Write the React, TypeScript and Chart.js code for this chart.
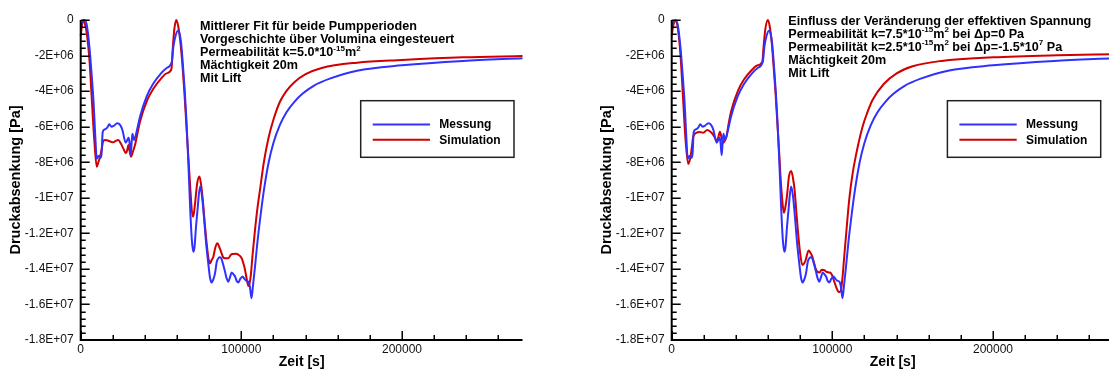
import React, { useEffect, useRef } from 'react';
import { Chart, registerables } from 'chart.js';

Chart.register(...registerables);

// ---------- data (time in s, pressure in MPa -> converted to Pa) ----------
const messungZeit = [0, 1500, 2700, 4000, 5500, 7000, 8000, 9000, 10000, 11000, 12300, 13000, 13700, 15000, 16500, 17800, 19200, 20600, 22800, 24500, 26000, 28000, 29300, 29900, 30500, 31100, 31700, 32200, 33200, 35000, 36900, 41000, 45000, 50000, 53500, 56700, 57700, 59000, 60500, 61500, 62500, 63600, 64700, 65800, 67000, 68100, 69200, 70100, 70800, 71800, 72700, 74300, 75500, 76700, 78000, 79400, 80500, 81500, 82500, 83600, 84700, 85700, 86700, 87700, 88800, 89800, 90900, 91900, 93000, 94000, 95000, 96100, 97200, 98100, 99400, 100800, 101800, 102900, 104400, 105300, 106300, 107300, 108500, 110000, 111600, 114000, 117000, 120000, 124000, 128000, 133000, 138000, 145000, 155000, 172000, 200000, 238000, 275000];
const messungDruck = [-0.3, -0.05, -0.02, -0.4, -1.6, -3.3, -4.6, -6.4, -7.8, -7.65, -7.75, -7.5, -6.3, -6.15, -6.05, -5.87, -6.0, -5.95, -5.81, -5.9, -6.2, -6.9, -6.7, -6.62, -7.0, -7.6, -6.9, -6.4, -6.75, -6.2, -5.44, -4.31, -3.6, -3.0, -2.7, -2.35, -1.5, -0.9, -0.6, -0.75, -1.3, -2.5, -3.9, -5.6, -8.0, -10.5, -12.4, -13.03, -12.8, -11.6, -10.69, -9.37, -9.9, -11.06, -12.5, -13.69, -14.5, -14.77, -14.6, -14.25, -13.6, -13.4, -13.35, -13.45, -13.8, -14.15, -14.55, -14.72, -14.45, -14.2, -14.3, -14.43, -14.7, -14.77, -14.55, -14.43, -14.55, -14.66, -14.72, -15.0, -15.65, -14.9, -13.87, -12.5, -11.25, -9.6, -8.0, -6.9, -5.9, -5.2, -4.6, -4.15, -3.7, -3.3, -2.85, -2.55, -2.3, -2.15];

const simLinksZeit = [0, 800, 1600, 2500, 4000, 5500, 7000, 8500, 10000, 11000, 12000, 13000, 14100, 15500, 17200, 18800, 20300, 21800, 23400, 25000, 26500, 28200, 29000, 29700, 30500, 31300, 32500, 33800, 36900, 41400, 45000, 50000, 53500, 56500, 57300, 58300, 59500, 60700, 62000, 63300, 64500, 65700, 67000, 68300, 69700, 70400, 71200, 72500, 73900, 75000, 76000, 77200, 78400, 79500, 80500, 81500, 82600, 83800, 85100, 86400, 87700, 88700, 89800, 91900, 93500, 95000, 96500, 98100, 100200, 101300, 102300, 103400, 104400, 105100, 105800, 107000, 108500, 110000, 111600, 114000, 117000, 120000, 124000, 128000, 133000, 140000, 150000, 172000, 200000, 238000, 275000];
const simLinksDruck = [-0.9, -0.3, 0, -0.15, -0.9, -2.3, -4.6, -6.8, -8.25, -8.0, -7.7, -7.3, -6.79, -6.75, -6.79, -6.85, -6.88, -6.8, -6.75, -6.95, -7.22, -7.5, -7.3, -7.03, -7.4, -7.69, -7.4, -7.03, -5.72, -4.5, -3.9, -3.3, -3.0, -2.75, -1.6, -0.5, 0, -0.35, -1.2, -2.5, -4.0, -5.8, -7.69, -9.6, -11.06, -10.9, -10.3, -9.2, -8.81, -9.3, -10.12, -11.4, -12.56, -13.4, -13.69, -13.5, -13.3, -12.8, -12.56, -12.8, -13.12, -13.35, -13.4, -13.4, -13.2, -13.16, -13.15, -13.2, -13.4, -13.7, -14.06, -14.6, -14.96, -14.8, -14.43, -13.2, -11.81, -10.6, -9.56, -8.0, -6.6, -5.6, -4.6, -4.0, -3.5, -3.05, -2.7, -2.4, -2.25, -2.1, -2.03];

const simRechtsZeit = [0, 1000, 2500, 4000, 5500, 7000, 8500, 10300, 11500, 12500, 13400, 15500, 17500, 19600, 22100, 24800, 26500, 27900, 29000, 30000, 31000, 32000, 33000, 34100, 35500, 37200, 41400, 45000, 50000, 53500, 56400, 57200, 58300, 59900, 61000, 62300, 63500, 64700, 65900, 67000, 67600, 68700, 69800, 70600, 71700, 73000, 74400, 75500, 76500, 77500, 78500, 79800, 81300, 82400, 83400, 85200, 86400, 87500, 88700, 89900, 92000, 93400, 94700, 96100, 97700, 99200, 100200, 101200, 102500, 103700, 104600, 105400, 106400, 107400, 108900, 110500, 112500, 114700, 118800, 121800, 125000, 132000, 140000, 150000, 168000, 200000, 240000, 275000];
const simRechtsDruck = [-0.9, -0.3, -0.05, -0.6, -2.0, -4.3, -6.6, -8.1, -7.8, -7.2, -6.56, -6.34, -6.3, -6.34, -6.19, -6.34, -6.55, -6.8, -6.6, -6.28, -6.6, -6.9, -6.8, -6.56, -5.8, -5.06, -3.94, -3.35, -2.8, -2.55, -2.35, -1.5, -0.5, 0, -0.35, -1.3, -2.7, -4.2, -6.0, -7.6, -8.62, -10.0, -10.84, -10.6, -9.94, -8.8, -8.49, -8.9, -9.56, -10.7, -11.81, -13.0, -13.78, -13.7, -13.5, -12.97, -13.1, -13.3, -13.7, -14.06, -14.2, -14.05, -14.06, -14.15, -14.2, -14.25, -14.45, -14.72, -15.05, -15.28, -15.3, -15.18, -14.4, -13.3, -11.7, -10.1, -8.7, -7.6, -6.0, -5.2, -4.5, -3.6, -3.0, -2.6, -2.3, -2.1, -1.98, -1.92];

const seriesLabels = ['Messung', 'Simulation'];
const xAxisTitle = 'Zeit [s]';
const yAxisTitle = 'Druckabsenkung [Pa]';

// tick positions
const xTickValues = [0, 20000, 40000, 60000, 80000, 100000, 120000, 140000, 160000, 180000, 200000, 220000, 240000, 260000];
const xLabelledTicks = [0, 100000, 200000];
const yMinorStep = 400000;
const yMajorStep = 2000000;

type Seg = { t: string; sup?: boolean };
const notesLinks: Seg[][] = [
  [{ t: 'Mittlerer Fit für beide Pumpperioden' }],
  [{ t: 'Vorgeschichte über Volumina eingesteuert' }],
  [{ t: 'Permeabilität k=5.0*10' }, { t: '-15', sup: true }, { t: 'm' }, { t: '2', sup: true }],
  [{ t: 'Mächtigkeit 20m' }],
  [{ t: 'Mit Lift' }],
];
const notesRechts: Seg[][] = [
  [{ t: 'Einfluss der Veränderung der effektiven Spannung' }],
  [{ t: 'Permeabilität k=7.5*10' }, { t: '-15', sup: true }, { t: 'm' }, { t: '2', sup: true }, { t: ' bei Δp=0 Pa' }],
  [{ t: 'Permeabilität k=2.5*10' }, { t: '-15', sup: true }, { t: 'm' }, { t: '2', sup: true }, { t: ' bei Δp=-1.5*10' }, { t: '7', sup: true }, { t: ' Pa' }],
  [{ t: 'Mächtigkeit 20m' }],
  [{ t: 'Mit Lift' }],
];

const X_MAX = 275000;
const Y_MIN = -18000000;
const Y_MAX = 0;

const BLUE = '#3030ff';
const RED = '#d00000';
const FONT = '"Liberation Sans", Arial, Helvetica, sans-serif';

function fmtE(v: number): string {
  if (Math.abs(v) < 1e-6) return '0';
  const e = Math.floor(Math.log10(Math.abs(v)) + 1e-9);
  const m = Math.round((v / Math.pow(10, e)) * 10) / 10;
  return `${m}E${e >= 0 ? '+' : '-'}${String(Math.abs(e)).padStart(2, '0')}`;
}

function toPoints(ts: number[], ps: number[]) {
  return ts.map((t, i) => ({ x: t, y: ps[i] * 1e6 }));
}

function yTickList() {
  const out: { value: number }[] = [];
  for (let v = Y_MIN; v <= Y_MAX + 1; v += yMinorStep) out.push({ value: v });
  return out;
}

const isYMajor = (v: number) => Math.abs(Math.round(v / yMinorStep)) % (yMajorStep / yMinorStep) === 0;

type Layout = {
  notes: Seg[][];
  noteX: number;
  noteY0: number;
  noteDy: number;
  legendX: number;
};

function makeDecor(cfg: Layout) {
  return {
    id: 'decor',
    afterDraw(chart: any) {
      const ctx: CanvasRenderingContext2D = chart.ctx;
      const a = chart.chartArea;
      const xs = chart.scales.x;
      const ys = chart.scales.y;
      ctx.save();
      // axes
      ctx.strokeStyle = '#000';
      ctx.lineWidth = 2;
      ctx.beginPath();
      ctx.moveTo(a.left, a.top);
      ctx.lineTo(a.left, a.bottom);
      ctx.lineTo(a.right, a.bottom);
      ctx.stroke();
      // ticks (inward)
      ctx.lineWidth = 1.5;
      ctx.beginPath();
      for (const tk of ys.ticks) {
        const v = tk.value;
        const py = Math.round(ys.getPixelForValue(v)) + 0.25;
        ctx.moveTo(a.left, py);
        ctx.lineTo(a.left + (isYMajor(v) ? 9 : 5), py);
      }
      for (const tk of xs.ticks) {
        const v = tk.value;
        const major = xLabelledTicks.includes(v);
        const px = Math.round(xs.getPixelForValue(v)) + 0.25;
        ctx.moveTo(px, a.bottom);
        ctx.lineTo(px, a.bottom - (major ? 9 : 5));
      }
      ctx.stroke();

      // axis titles
      ctx.fillStyle = '#000';
      ctx.font = `bold 14px ${FONT}`;
      ctx.textAlign = 'center';
      ctx.textBaseline = 'middle';
      ctx.fillText(xAxisTitle, (a.left + a.right) / 2, 362);
      ctx.save();
      ctx.translate(a.left - 64.3, (a.top + a.bottom) / 2);
      ctx.rotate(-Math.PI / 2);
      ctx.font = `bold 14.5px ${FONT}`;
      ctx.fillText(yAxisTitle, 0, 0);
      ctx.restore();

      // annotation text
      ctx.textAlign = 'left';
      ctx.textBaseline = 'middle';
      cfg.notes.forEach((line, i) => {
        let x = a.left + cfg.noteX;
        const y = cfg.noteY0 + i * cfg.noteDy;
        for (const s of line) {
          if (s.sup) {
            ctx.font = `bold 8px ${FONT}`;
            ctx.fillText(s.t, x, y - 4.5);
          } else {
            ctx.font = `bold 12.6px ${FONT}`;
            ctx.fillText(s.t, x, y);
          }
          x += ctx.measureText(s.t).width;
        }
      });

      // legend box
      const bx = a.left + cfg.legendX;
      const by = 100.7;
      const bw = 153.3;
      const bh = 56.6;
      ctx.strokeStyle = '#222';
      ctx.lineWidth = 1.5;
      ctx.strokeRect(bx, by, bw, bh);
      chart.data.datasets.forEach((ds: any, i: number) => {
        const ly = by + 23.8 + i * 15.2;
        ctx.strokeStyle = ds.borderColor;
        ctx.lineWidth = 2;
        ctx.beginPath();
        ctx.moveTo(bx + 12, ly);
        ctx.lineTo(bx + 69.3, ly);
        ctx.stroke();
        ctx.fillStyle = '#000';
        ctx.font = `bold 12px ${FONT}`;
        ctx.fillText(ds.label, bx + 78.6, ly + 0.5);
      });
      ctx.restore();
    },
  };
}

function PressureChart(props: { simT: number[]; simP: number[]; layout: Layout; left: number }) {
  const ref = useRef<HTMLCanvasElement | null>(null);
  useEffect(() => {
    if (!ref.current) return;
    const chart = new Chart(ref.current, {
      type: 'line',
      data: {
        datasets: [
          {
            label: seriesLabels[0],
            data: toPoints(messungZeit, messungDruck),
            borderColor: BLUE,
            borderWidth: 2,
            pointRadius: 0,
            cubicInterpolationMode: 'monotone',
            clip: false,
          },
          {
            label: seriesLabels[1],
            data: toPoints(props.simT, props.simP),
            borderColor: RED,
            borderWidth: 2,
            pointRadius: 0,
            cubicInterpolationMode: 'monotone',
            clip: false,
          },
        ],
      } as any,
      options: {
        animation: false,
        responsive: false,
        devicePixelRatio: 1,
        layout: { padding: { left: 0, right: 37.5, top: 20, bottom: 0 } },
        plugins: { legend: { display: false }, tooltip: { enabled: false } },
        scales: {
          x: {
            type: 'linear',
            min: 0,
            max: X_MAX,
            grid: { display: false, drawTicks: false },
            border: { display: false },
            afterBuildTicks: (s: any) => {
              s.ticks = xTickValues.map((v) => ({ value: v }));
            },
            afterFit: (s: any) => {
              s.height = 31;
            },
            ticks: {
              autoSkip: false,
              maxRotation: 0,
              minRotation: 0,
              padding: 2,
              color: '#111',
              font: { family: FONT, size: 12 },
              callback: (v: any) => (xLabelledTicks.includes(v) ? String(v) : ''),
            },
          },
          y: {
            type: 'linear',
            min: Y_MIN,
            max: Y_MAX,
            grid: { display: false, drawTicks: false },
            border: { display: false },
            afterBuildTicks: (s: any) => {
              s.ticks = yTickList();
            },
            afterFit: (s: any) => {
              s.width = 80.7;
            },
            ticks: {
              autoSkip: false,
              padding: 7,
              color: '#111',
              font: { family: FONT, size: 12 },
              callback: (v: any) => (isYMajor(v) ? fmtE(v) : ''),
            },
          },
        },
      } as any,
      plugins: [makeDecor(props.layout)],
    });
    return () => chart.destroy();
  }, []);
  return (
    <canvas
      ref={ref}
      width={560}
      height={371}
      style={{ position: 'absolute', left: props.left, top: 0, width: 560, height: 371, display: 'block' }}
    />
  );
}

export default function App() {
  return (
    <div style={{ position: 'absolute', left: 0, top: 0, width: 1109, height: 371, overflow: 'hidden', background: '#fff' }}>
      <PressureChart
        simT={simLinksZeit}
        simP={simLinksDruck}
        left={0}
        layout={{ notes: notesLinks, noteX: 119.3, noteY0: 27, noteDy: 13, legendX: 280 }}
      />
      <PressureChart
        simT={simRechtsZeit}
        simP={simRechtsDruck}
        left={591}
        layout={{ notes: notesRechts, noteX: 116.6, noteY0: 21.5, noteDy: 13, legendX: 275.7 }}
      />
    </div>
  );
}
